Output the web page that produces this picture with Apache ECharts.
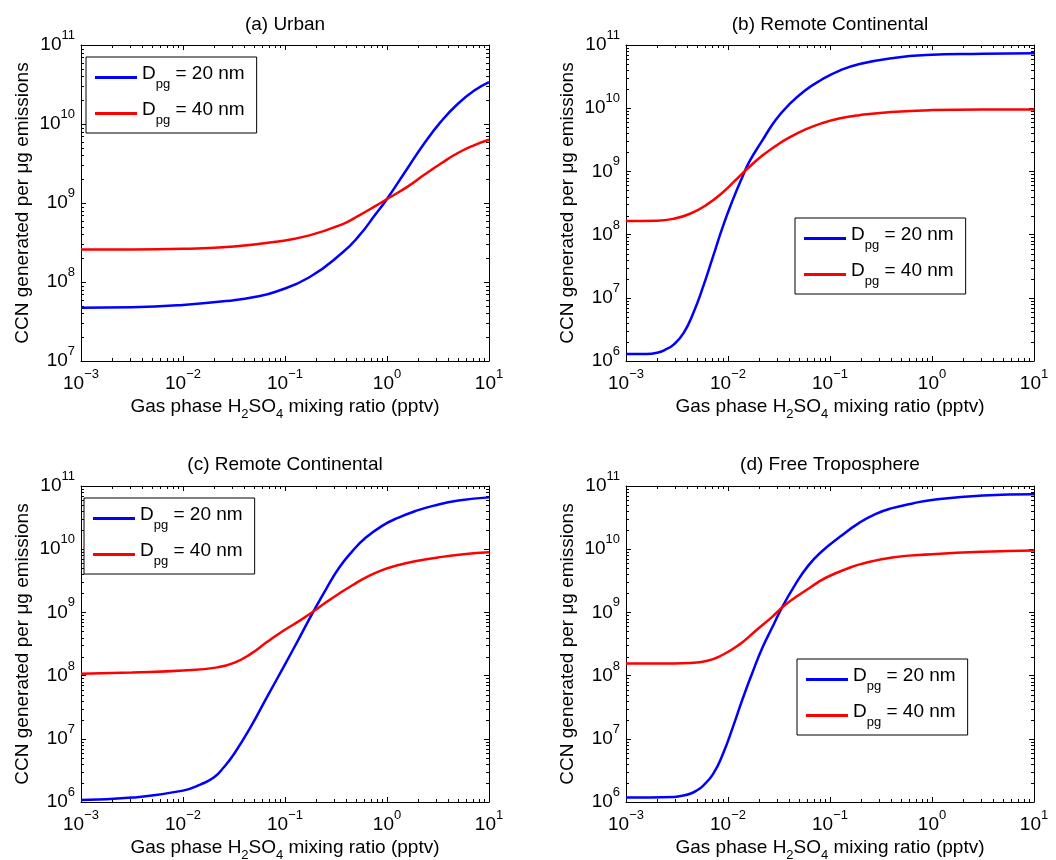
<!DOCTYPE html>
<html><head><meta charset="utf-8">
<script src="https://cdn.jsdelivr.net/npm/echarts@6/dist/echarts.min.js"></script>
<style>html,body{margin:0;padding:0;background:#fff}#c{width:1056px;height:860px}</style>
</head><body><div id="c"></div>
<script>
// ---------------- data (log10 exponents) ----------------
const panelTitles = ['(a) Urban', '(b) Remote Continental', '(c) Remote Continental', '(d) Free Troposphere'];
const seriesNames = ['Dpg = 20 nm', 'Dpg = 40 nm'];
const xTickExps = [-3, -2, -1, 0, 1];
const yTickExpsA = [7, 8, 9, 10, 11];
const yTickExpsBCD = [6, 7, 8, 9, 10, 11];

// (a) Urban
const urban20X = [-3, -2.5, -2, -1.5, -1.3, -1.084, -0.761, -0.439, -0.277, -0.116, 0, 0.206, 0.368, 0.529, 0.69, 0.852, 1];
const urban20Y = [7.674, 7.68, 7.71, 7.77, 7.81, 7.88, 8.06, 8.37, 8.58, 8.85, 9.05, 9.45, 9.76, 10.03, 10.25, 10.42, 10.53];
const urban40X = [-3, -2.5, -2, -1.5, -1.084, -0.761, -0.439, -0.277, -0.116, 0, 0.206, 0.368, 0.529, 0.69, 0.852, 1];
const urban40Y = [8.41, 8.41, 8.42, 8.45, 8.51, 8.59, 8.73, 8.84, 8.96, 9.05, 9.21, 9.36, 9.50, 9.63, 9.73, 9.80];

// (b) Remote Continental
const remoteB20X = [-3, -2.8, -2.694, -2.613, -2.533, -2.436, -2.34, -2.243, -2.147, -2.05, -1.953, -1.857, -1.792, -1.663, -1.535, -1.406, -1.245, -1.084, -0.9, -0.71, -0.4, -0.06, 0.5, 1];
const remoteB20Y = [6.11, 6.11, 6.13, 6.18, 6.26, 6.44, 6.76, 7.18, 7.65, 8.13, 8.55, 8.92, 9.15, 9.49, 9.81, 10.05, 10.28, 10.45, 10.6, 10.7, 10.79, 10.84, 10.86, 10.87];
const remoteB40X = [-3, -2.694, -2.533, -2.372, -2.211, -2.05, -1.921, -1.792, -1.663, -1.535, -1.406, -1.245, -1.084, -0.9, -0.71, -0.4, 0, 0.5, 1];
const remoteB40Y = [8.216, 8.22, 8.25, 8.33, 8.47, 8.67, 8.87, 9.07, 9.25, 9.40, 9.53, 9.66, 9.76, 9.84, 9.89, 9.94, 9.97, 9.98, 9.98];

// (c) Remote Continental
const remoteC20X = [-3, -2.5, -2, -1.825, -1.695, -1.6, -1.5, -1.339, -1.177, -1.016, -0.855, -0.726, -0.597, -0.468, -0.339, -0.21, -0.048, 0.113, 0.274, 0.46, 0.7, 1];
const remoteC20Y = [6.03, 6.07, 6.18, 6.28, 6.39, 6.55, 6.76, 7.18, 7.66, 8.13, 8.61, 9.0, 9.37, 9.71, 9.97, 10.18, 10.37, 10.5, 10.6, 10.69, 10.77, 10.82];
const remoteC40X = [-3, -2.5, -2, -1.661, -1.5, -1.339, -1.177, -1.016, -0.855, -0.726, -0.597, -0.468, -0.339, -0.21, -0.048, 0.113, 0.274, 0.5, 0.75, 1];
const remoteC40Y = [8.03, 8.05, 8.08, 8.13, 8.20, 8.34, 8.53, 8.71, 8.87, 9.01, 9.16, 9.30, 9.43, 9.55, 9.67, 9.75, 9.81, 9.87, 9.92, 9.95];

// (d) Free Troposphere
const freeT20X = [-3, -2.533, -2.45, -2.372, -2.3, -2.243, -2.147, -2.05, -1.953, -1.857, -1.76, -1.663, -1.567, -1.47, -1.341, -1.213, -1.084, -0.9, -0.71, -0.55, -0.39, -0.2, 0, 0.5, 1];
const freeT20Y = [6.07, 6.08, 6.10, 6.13, 6.19, 6.26, 6.44, 6.76, 7.18, 7.63, 8.05, 8.44, 8.76, 9.08, 9.44, 9.74, 9.96, 10.2, 10.42, 10.56, 10.65, 10.72, 10.78, 10.85, 10.87];
const freeT40X = [-3, -2.7, -2.372, -2.211, -2.05, -1.889, -1.728, -1.567, -1.438, -1.309, -1.18, -1.084, -1.0, -0.85, -0.71, -0.39, 0, 0.5, 1];
const freeT40Y = [8.19, 8.19, 8.2, 8.23, 8.33, 8.49, 8.71, 8.93, 9.12, 9.27, 9.41, 9.51, 9.58, 9.68, 9.76, 9.87, 9.92, 9.96, 9.98];

// ---------------- layout ----------------
const FONT = '"Liberation Sans", Arial, Helvetica, sans-serif';
const grids = [
  {left: 81, top: 45, width: 408, height: 316},
  {left: 626, top: 45, width: 408, height: 316},
  {left: 81, top: 486, width: 408, height: 316},
  {left: 626, top: 486, width: 408, height: 316}
];
const titleTops = [15, 15, 455, 455];
const legendPos = [[86, 57], [795, 218], [84, 498], [797, 659]];

const panels = [
  {yTicks: yTickExpsA, s20: [urban20X, urban20Y], s40: [urban40X, urban40Y]},
  {yTicks: yTickExpsBCD, s20: [remoteB20X, remoteB20Y], s40: [remoteB40X, remoteB40Y]},
  {yTicks: yTickExpsBCD, s20: [remoteC20X, remoteC20Y], s40: [remoteC40X, remoteC40Y]},
  {yTicks: yTickExpsBCD, s20: [freeT20X, freeT20Y], s40: [freeT40X, freeT40Y]}
];

function toData(pair) { return pair[0].map((e, i) => [Math.pow(10, e), Math.pow(10, pair[1][i])]); }
function minorValues(exps) {
  const out = [];
  for (let i = 0; i < exps.length - 1; i++) for (let k = 2; k <= 9; k++) out.push(k * Math.pow(10, exps[i]));
  return out;
}
const tickRich = {
  b: {fontSize: 19, fontFamily: FONT, color: '#000'},
  s: {fontSize: 13, fontFamily: FONT, color: '#000', padding: [0, 0, 19, 0]}
};
function expLabel(v) {
  const e = Math.round(Math.log10(v));
  return '{b|10}{s|' + String(e).replace('-', '\u2212') + '}';
}
const nameRich = {
  t: {fontSize: 19, fontFamily: FONT, color: '#000'},
  sub: {fontSize: 13, fontFamily: FONT, color: '#000', padding: [16, 0, 0, 0]}
};
const xName = '{t|Gas phase H}{sub|2}{t|SO}{sub|4}{t| mixing ratio (pptv)}';
const yName = '{t|CCN generated per \u03bcg emissions}';

const lineAxis = {show: true, onZero: false, lineStyle: {color: '#000', width: 1}};
const tickStyle = {show: true, inside: true, length: 5, lineStyle: {color: '#000', width: 1}};

const xAxes = [], yAxes = [], series = [], titles = [], legends = [];
panels.forEach((p, i) => {
  const yMin = Math.pow(10, p.yTicks[0]), yMax = Math.pow(10, p.yTicks[p.yTicks.length - 1]);
  xAxes.push({type: 'log', logBase: 10, gridIndex: i, min: 1e-3, max: 10, position: 'bottom',
    axisLine: lineAxis, axisTick: tickStyle, splitLine: {show: false},
    axisLabel: {formatter: expLabel, rich: tickRich, margin: 7, showMinLabel: true, showMaxLabel: true, interval: 0},
    name: xName, nameLocation: 'middle', nameGap: 31, nameTextStyle: {rich: nameRich}});
  xAxes.push({type: 'log', logBase: 10, gridIndex: i, min: 1e-3, max: 10, position: 'top',
    axisLine: lineAxis, axisTick: tickStyle, splitLine: {show: false}, axisLabel: {show: false}});
  yAxes.push({type: 'log', logBase: 10, gridIndex: i, min: yMin, max: yMax, position: 'left',
    axisLine: lineAxis, axisTick: tickStyle, splitLine: {show: false},
    axisLabel: {formatter: expLabel, rich: tickRich, margin: 6, showMinLabel: true, showMaxLabel: true, interval: 0},
    name: yName, nameLocation: 'middle', nameGap: 49, nameTextStyle: {rich: nameRich}});
  yAxes.push({type: 'log', logBase: 10, gridIndex: i, min: yMin, max: yMax, position: 'right',
    axisLine: lineAxis, axisTick: tickStyle, splitLine: {show: false}, axisLabel: {show: false}});

  const xi = 2 * i, yi = 2 * i;
  series.push({name: seriesNames[0], type: 'line', xAxisIndex: xi, yAxisIndex: yi, data: toData(p.s20),
    showSymbol: false, symbol: 'none', smooth: 0.5, clip: true,
    lineStyle: {color: '#0000ff', width: 2.5}, itemStyle: {color: '#0000ff'}, z: 3});
  series.push({name: seriesNames[1], type: 'line', xAxisIndex: xi, yAxisIndex: yi, data: toData(p.s40),
    showSymbol: false, symbol: 'none', smooth: 0.5, clip: true,
    lineStyle: {color: '#ff0000', width: 2.5}, itemStyle: {color: '#ff0000'}, z: 3});

  // minor ticks (2..9 x 10^n) on all four sides
  series.push({name: 'minorX' + i, type: 'custom', xAxisIndex: xi, yAxisIndex: yi, silent: true, clip: false,
    data: minorValues(xTickExps).map(v => [v, yMin]),
    renderItem: (params, api) => {
      const cs = params.coordSys;
      const px = Math.round(api.coord([api.value(0), api.value(1)])[0]) + 0.5;
      return {type: 'group', children: [
        {type: 'line', shape: {x1: px, y1: cs.y + cs.height, x2: px, y2: cs.y + cs.height - 3}, style: {stroke: '#000', lineWidth: 1}},
        {type: 'line', shape: {x1: px, y1: cs.y, x2: px, y2: cs.y + 3}, style: {stroke: '#000', lineWidth: 1}}
      ]};
    }});
  series.push({name: 'minorY' + i, type: 'custom', xAxisIndex: xi, yAxisIndex: yi, silent: true, clip: false,
    data: minorValues(p.yTicks).map(v => [1e-3, v]),
    renderItem: (params, api) => {
      const cs = params.coordSys;
      const py = Math.round(api.coord([api.value(0), api.value(1)])[1]) + 0.5;
      return {type: 'group', children: [
        {type: 'line', shape: {x1: cs.x, y1: py, x2: cs.x + 3, y2: py}, style: {stroke: '#000', lineWidth: 1}},
        {type: 'line', shape: {x1: cs.x + cs.width, y1: py, x2: cs.x + cs.width - 3, y2: py}, style: {stroke: '#000', lineWidth: 1}}
      ]};
    }});

  titles.push({text: panelTitles[i], left: grids[i].left + grids[i].width / 2, top: titleTops[i], textAlign: 'center', padding: 0,
    textStyle: {fontSize: 19, fontWeight: 'normal', color: '#000', fontFamily: FONT}});

  legends.push({data: seriesNames.map(n => ({name: n, icon: 'rect'})), left: legendPos[i][0], top: legendPos[i][1], orient: 'vertical',
    itemWidth: 42, itemHeight: 3, itemGap: 9, padding: [7, 12, 6, 9],
    borderColor: '#000', borderWidth: 1, borderRadius: 0, backgroundColor: '#fff', selectedMode: false,
    formatter: n => '{d|D}{s|pg}{d|' + n.slice(3) + '}',
    textStyle: {color: '#000', rich: {
      d: {fontSize: 19, fontFamily: FONT, color: '#000', padding: [0, 0, 8, 0]},
      s: {fontSize: 13, fontFamily: FONT, color: '#000', padding: [14, 0, 0, 0]}
    }}});
});

const chart = echarts.init(document.getElementById('c'), null, {renderer: 'canvas'});
chart.setOption({
  animation: false,
  backgroundColor: '#fff',
  textStyle: {fontFamily: FONT},
  title: titles,
  legend: legends,
  grid: grids.map(g => Object.assign({outerBoundsMode: 'none', containLabel: false}, g)),
  xAxis: xAxes,
  yAxis: yAxes,
  series: series
});
</script>
</body></html>
